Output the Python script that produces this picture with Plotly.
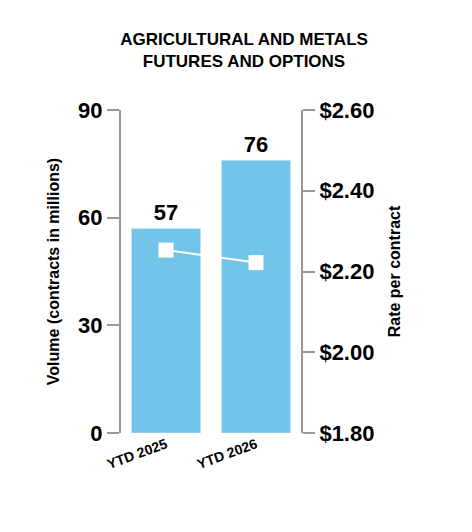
import plotly.graph_objects as go

categories = ["YTD 2025", "YTD 2026"]
volume = [57, 76]
rate = [2.253, 2.222]
left_ticks = [0, 30, 60, 90]
right_ticks = [1.80, 2.00, 2.20, 2.40, 2.60]
right_labels = ["$1.80", "$2.00", "$2.20", "$2.40", "$2.60"]

F = "Liberation Sans, Arial, sans-serif"
fig = go.Figure()
fig.add_trace(go.Bar(x=categories, y=volume, marker_color="#72C4E8", width=0.77,
                     text=[f"<b>{v}</b>" for v in volume], textposition="outside",
                     textfont=dict(family=F, size=22, color="black"), cliponaxis=False))
fig.add_trace(go.Scatter(x=categories, y=rate, yaxis="y2", mode="lines+markers",
                         line=dict(color="white", width=2),
                         marker=dict(symbol="square", size=15, color="white")))
fig.update_layout(
    width=472, height=532, showlegend=False, plot_bgcolor="white", paper_bgcolor="white",
    margin=dict(l=113, r=179, t=102, b=107),
    title=dict(text="<b>AGRICULTURAL AND METALS<br>FUTURES AND OPTIONS</b>", x=0.5, xanchor="center",
               y=0.93, yanchor="middle", font=dict(family=F, size=17, color="black")),
    font=dict(family=F, color="black"),
    xaxis=dict(showline=False, ticks="", tickangle=-20,
               tickfont=dict(family=F, size=14, color="black"), tickprefix="<b>", ticksuffix="</b>"),
    yaxis=dict(range=[0, 90], tickvals=left_ticks, ticktext=[f"<b>{t}</b>" for t in left_ticks],
               showgrid=False, zeroline=False, showline=True, linecolor="#999", linewidth=2,
               ticks="outside", ticklen=12, tickwidth=2, tickcolor="#999",
               tickfont=dict(family=F, size=22, color="black"),
               title=dict(text="<b>Volume (contracts in millions)</b>", font=dict(family=F, size=16))),
    yaxis2=dict(range=[1.80, 2.60], overlaying="y", side="right", tickvals=right_ticks,
                ticktext=[f"<b>{t}</b>" for t in right_labels], showgrid=False, zeroline=False,
                showline=True, linecolor="#999", linewidth=2, ticks="outside", ticklen=12,
                tickwidth=2, tickcolor="#999", tickfont=dict(family=F, size=22, color="black"),
                title=dict(text="<b>Rate per contract</b>", font=dict(family=F, size=16))),
)
fig.write_html("out.html")
